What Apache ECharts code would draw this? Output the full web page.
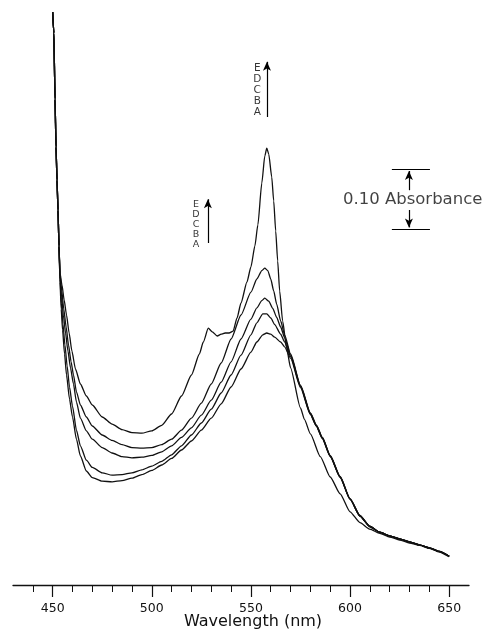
<!DOCTYPE html>
<html><head><meta charset="utf-8">
<script src="https://cdn.jsdelivr.net/npm/echarts@6/dist/echarts.min.js"></script>
<style>html,body{margin:0;padding:0;background:#fff}#c{width:484px;height:636px}</style>
</head><body><div id="c"></div>
<script>
// Shared steep rise near 450 nm (all five spectra overlap here)
const commonStart = [[450,0.955],[450.6,0.92],[451.2,0.81],[451.7,0.73],[452.2,0.675],[452.7,0.625],[453.2,0.565]];

const spectrumA = [[453.7,0.505],[454.3,0.46],[455,0.425],[456,0.385],[457,0.35],[458.5,0.31],[460,0.28],[462,0.243],[464,0.215],[467,0.19],[470,0.179],[475,0.173],[480,0.172],[485,0.174],[490,0.178],[495,0.184],[500,0.191],[505,0.2],[510,0.211],[515,0.225],[520,0.24],[525,0.258],[530,0.278],[535,0.302],[540,0.33],[545,0.36],[550,0.388],[553,0.405],[556,0.417],[558,0.42],[560,0.418],[562,0.413],[565,0.405],[567,0.397],[570,0.378],[575,0.329],[580,0.284],[583,0.265],[586,0.244],[590,0.214],[595,0.179],[600,0.143],[605,0.115],[610,0.097],[615,0.088],[620,0.082],[625,0.077],[630,0.072],[635,0.067],[640,0.062],[645,0.056],[650,0.048]];
const spectrumB = [[453.7,0.51],[454.4,0.47],[455.2,0.435],[456.2,0.4],[457.3,0.365],[458.5,0.33],[460,0.298],[462,0.258],[464,0.232],[467,0.208],[470,0.196],[475,0.187],[480,0.183],[485,0.184],[490,0.187],[495,0.192],[500,0.198],[505,0.206],[510,0.217],[515,0.232],[520,0.25],[525,0.27],[530,0.293],[535,0.32],[540,0.35],[545,0.383],[550,0.417],[553,0.437],[556,0.452],[558,0.452],[560,0.445],[562,0.434],[565,0.418],[567,0.405],[570,0.381],[575,0.331],[580,0.285],[583,0.265],[586,0.245],[590,0.215],[595,0.18],[600,0.143],[605,0.115],[610,0.097],[615,0.088],[620,0.082],[625,0.077],[630,0.072],[635,0.067],[640,0.062],[645,0.056],[650,0.048]];
const spectrumC = [[453.7,0.515],[454.5,0.48],[455.4,0.45],[456.5,0.42],[457.7,0.39],[459,0.362],[460.5,0.335],[462,0.305],[464,0.278],[467,0.257],[470,0.243],[475,0.229],[480,0.22],[485,0.214],[490,0.212],[495,0.213],[500,0.216],[505,0.222],[510,0.232],[515,0.246],[520,0.262],[525,0.283],[530,0.308],[535,0.338],[540,0.372],[545,0.41],[550,0.443],[553,0.462],[555.5,0.474],[557,0.478],[559,0.473],[561,0.461],[563,0.446],[565,0.43],[567,0.412],[570,0.383],[575,0.332],[580,0.286],[583,0.266],[586,0.246],[590,0.215],[595,0.18],[600,0.143],[605,0.115],[610,0.098],[615,0.088],[620,0.082],[625,0.077],[630,0.072],[635,0.067],[640,0.062],[645,0.056],[650,0.048]];
const spectrumD = [[453.7,0.518],[454.6,0.49],[455.6,0.46],[456.8,0.43],[458,0.4],[459.3,0.372],[460.5,0.35],[462,0.322],[464,0.3],[467,0.28],[470,0.265],[475,0.25],[480,0.241],[485,0.234],[490,0.229],[495,0.228],[500,0.229],[505,0.234],[510,0.243],[515,0.258],[520,0.278],[525,0.303],[530,0.335],[535,0.37],[540,0.41],[545,0.45],[550,0.488],[553,0.51],[555.5,0.524],[557,0.528],[558.5,0.524],[560,0.51],[561.5,0.49],[563,0.468],[565,0.44],[567,0.417],[570,0.385],[575,0.333],[580,0.287],[583,0.267],[586,0.246],[590,0.216],[595,0.181],[600,0.144],[605,0.116],[610,0.098],[615,0.088],[620,0.082],[625,0.077],[630,0.072],[635,0.067],[640,0.062],[645,0.056],[650,0.048]];
const spectrumE = [[453.7,0.52],[454.7,0.5],[455.8,0.475],[457,0.45],[458.3,0.42],[459.7,0.39],[461.5,0.36],[464,0.335],[467,0.315],[470,0.3],[475,0.28],[480,0.268],[485,0.259],[490,0.254],[495,0.253],[500,0.257],[505,0.266],[510,0.285],[515,0.315],[520,0.35],[524,0.385],[526,0.405],[528.5,0.428],[530.5,0.422],[533,0.415],[535,0.418],[537,0.42],[539,0.42],[541,0.423],[543,0.445],[545,0.47],[548,0.505],[550,0.53],[552,0.565],[553.5,0.6],[555.5,0.67],[557,0.715],[558,0.728],[559,0.718],[560.5,0.68],[561.5,0.64],[562.5,0.59],[563.5,0.54],[564.5,0.49],[566,0.44],[568,0.395],[570,0.362],[575,0.295],[577,0.276],[580,0.252],[585,0.214],[590,0.18],[595,0.152],[600,0.122],[605,0.104],[610,0.093],[615,0.086],[620,0.08],[625,0.075],[630,0.07],[635,0.066],[640,0.061],[645,0.055],[650,0.047]];

const seriesNames = ['A','B','C','D','E'];
const seriesValues = [spectrumA, spectrumB, spectrumC, spectrumD, spectrumE];

const xTickLabels = [450, 500, 550, 600, 650];
const xMinorTicks = [440,460,470,480,490,510,520,530,540,560,570,580,590,610,620,630,640];
const scaleLabel = '0.10 Absorbance';
const stackLabel = 'E\nD\nC\nB\nA';

const chart = echarts.init(document.getElementById('c'));
const ink = '#000';
const font = 'DejaVu Sans';

const spectra = seriesNames.map((n, i) => ({
  name: n, type: 'line', xAxisIndex: 0, yAxisIndex: 0,
  data: commonStart.concat(seriesValues[i]),
  showSymbol: false, smooth: 0.2, smoothMonotone: 'x',
  lineStyle: { color: '#111', width: 1.3 }, z: 3
}));

const arrowLine = (x, y1, y2, sym) => [{ coord: [x, y1], symbol: sym[0] }, { coord: [x, y2], symbol: sym[1] }];

const annotation = {
  type: 'scatter', xAxisIndex: 0, yAxisIndex: 0, symbolSize: 0, z: 5,
  data: [
    { value: [596.4, 0.642], label: { show: true, position: 'right', distance: 0, formatter: scaleLabel, fontFamily: font, fontSize: 16.5, color: '#111' } },
    { value: [553.2, 0.825], label: { show: true, position: 'inside', formatter: stackLabel, fontFamily: font, fontSize: 10.5, lineHeight: 11, color: ink } },
    { value: [522.3, 0.6], label: { show: true, position: 'inside', formatter: stackLabel, fontFamily: font, fontSize: 9.5, lineHeight: 10, color: ink } }
  ],
  markLine: {
    silent: true, animation: false,
    symbolSize: [6, 9],
    label: { show: false },
    lineStyle: { color: ink, width: 1.2, type: 'solid' },
    data: [
      arrowLine(558.1, 0.78, 0.872, ['none', 'arrow']),
      arrowLine(528.3, 0.57, 0.643, ['none', 'arrow']),
      arrowLine(629.7, 0.658, 0.69, ['none', 'arrow']),
      arrowLine(629.7, 0.625, 0.596, ['none', 'arrow']),
      [{ coord: [621.1, 0.693], symbol: 'none' }, { coord: [640.3, 0.693], symbol: 'none' }],
      [{ coord: [621.1, 0.593], symbol: 'none' }, { coord: [640.3, 0.593], symbol: 'none' }]
    ]
  }
};

chart.setOption({
  animation: false,
  backgroundColor: '#fff',
  grid: { left: 13, right: 15, top: 9, bottom: 51, containLabel: false, outerBoundsMode: 'none' },
  xAxis: [{
    type: 'value', min: 430, max: 660, position: 'bottom',
    axisLine: { show: true, lineStyle: { color: '#111', width: 1.3 } },
    axisTick: { show: true, customValues: xMinorTicks, length: 7, lineStyle: { color: '#111', width: 1 } },
    axisLabel: { show: true, customValues: xTickLabels, margin: 17, fontFamily: font, fontSize: 12.5, color: '#111' },
    splitLine: { show: false },
    name: 'Wavelength (nm)', nameLocation: 'middle', nameGap: 29, nameMoveOverlap: false,
    nameTextStyle: { fontFamily: font, fontSize: 16, color: '#111', padding: [0, 0, 0, 24] }
  }, {
    type: 'value', min: 430, max: 660, position: 'bottom',
    axisLine: { show: false },
    axisTick: { show: true, customValues: xTickLabels, length: 12, lineStyle: { color: '#111', width: 1.2 } },
    axisLabel: { show: false }, splitLine: { show: false }
  }],
  yAxis: { type: 'value', min: 0, max: 0.96, show: false, splitLine: { show: false } },
  series: spectra.concat([annotation])
});
</script></body></html>
